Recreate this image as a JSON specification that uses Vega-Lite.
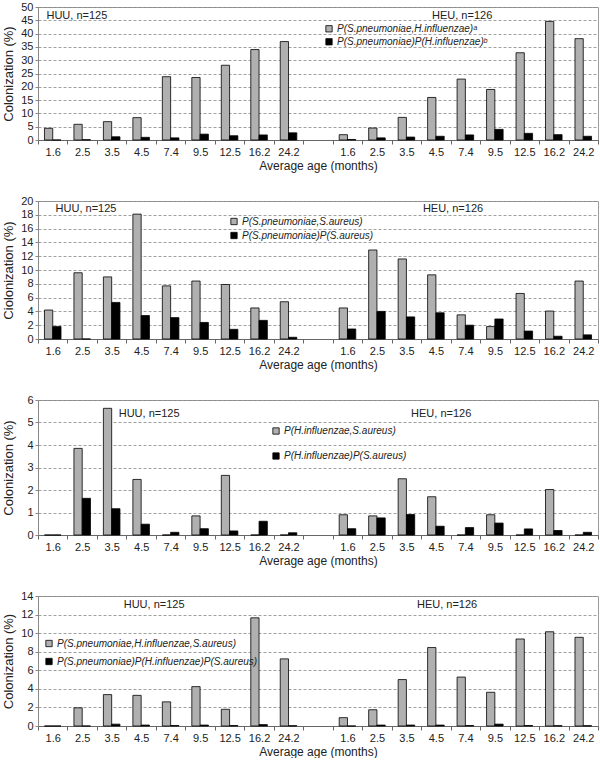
{
  "$schema": "https://vega.github.io/schema/vega-lite/v6.json",
  "padding": {"left": 1, "top": 0, "right": 2, "bottom": 0},
  "spacing": 22,
  "config": {
    "font": "Liberation Sans",
    "view": {"stroke": "#9a9a9a", "strokeWidth": 1},
    "axisX": {"domainColor": "#666", "tickColor": "#666", "tickSize": 4, "labelFontSize": 11, "labelColor": "#222", "titleFontSize": 12, "titleFontWeight": "normal", "titleColor": "#222", "labelPadding": 2, "titlePadding": 3, "grid": false, "labelAngle": 0},
    "axisY": {"grid": true, "gridDash": [3, 2], "gridColor": "#888", "gridWidth": 0.8, "domainColor": "#888", "tickColor": "#888", "tickSize": 3, "labelFontSize": 11, "labelColor": "#222", "labelPadding": 2, "labelOverlap": false, "titleFontSize": 13, "titleFontWeight": "normal", "titleColor": "#222", "titleBaseline": "middle"},
    "legend": {"orient": "none", "title": null, "symbolType": "square", "symbolSize": 40, "symbolStrokeColor": "black", "symbolStrokeWidth": 0.8, "labelFontSize": 10, "labelFontStyle": "italic", "labelColor": "#222", "labelLimit": 400, "padding": 0, "labelOffset": 3, "direction": "vertical"}
  },
  "resolve": {"scale": {"color": "independent"}, "legend": {"color": "independent"}},
  "datasets": {
    "d": [
      {"p":1,"slot":1,"s":"j","v":4.4},{"p":1,"slot":2,"s":"j","v":5.9},{"p":1,"slot":3,"s":"j","v":6.9},{"p":1,"slot":4,"s":"j","v":8.4},{"p":1,"slot":5,"s":"j","v":23.8},{"p":1,"slot":6,"s":"j","v":23.5},{"p":1,"slot":7,"s":"j","v":28.1},{"p":1,"slot":8,"s":"j","v":34.0},{"p":1,"slot":9,"s":"j","v":37.0},
      {"p":1,"slot":1,"s":"p","v":0},{"p":1,"slot":2,"s":"p","v":0.1},{"p":1,"slot":3,"s":"p","v":1.2},{"p":1,"slot":4,"s":"p","v":1.0},{"p":1,"slot":5,"s":"p","v":0.8},{"p":1,"slot":6,"s":"p","v":2.2},{"p":1,"slot":7,"s":"p","v":1.6},{"p":1,"slot":8,"s":"p","v":1.9},{"p":1,"slot":9,"s":"p","v":2.7},
      {"p":1,"slot":11,"s":"j","v":2.0},{"p":1,"slot":12,"s":"j","v":4.5},{"p":1,"slot":13,"s":"j","v":8.5},{"p":1,"slot":14,"s":"j","v":16.0},{"p":1,"slot":15,"s":"j","v":22.9},{"p":1,"slot":16,"s":"j","v":19.0},{"p":1,"slot":17,"s":"j","v":32.8},{"p":1,"slot":18,"s":"j","v":44.6},{"p":1,"slot":19,"s":"j","v":38.1},
      {"p":1,"slot":11,"s":"p","v":0.2},{"p":1,"slot":12,"s":"p","v":0.8},{"p":1,"slot":13,"s":"p","v":1.1},{"p":1,"slot":14,"s":"p","v":1.4},{"p":1,"slot":15,"s":"p","v":1.9},{"p":1,"slot":16,"s":"p","v":4.0},{"p":1,"slot":17,"s":"p","v":2.5},{"p":1,"slot":18,"s":"p","v":2.0},{"p":1,"slot":19,"s":"p","v":1.4},

      {"p":2,"slot":1,"s":"j","v":4.2},{"p":2,"slot":2,"s":"j","v":9.6},{"p":2,"slot":3,"s":"j","v":9.0},{"p":2,"slot":4,"s":"j","v":18.1},{"p":2,"slot":5,"s":"j","v":7.7},{"p":2,"slot":6,"s":"j","v":8.4},{"p":2,"slot":7,"s":"j","v":7.9},{"p":2,"slot":8,"s":"j","v":4.5},{"p":2,"slot":9,"s":"j","v":5.4},
      {"p":2,"slot":1,"s":"p","v":1.8},{"p":2,"slot":2,"s":"p","v":0},{"p":2,"slot":3,"s":"p","v":5.3},{"p":2,"slot":4,"s":"p","v":3.4},{"p":2,"slot":5,"s":"p","v":3.1},{"p":2,"slot":6,"s":"p","v":2.4},{"p":2,"slot":7,"s":"p","v":1.4},{"p":2,"slot":8,"s":"p","v":2.7},{"p":2,"slot":9,"s":"p","v":0.25},
      {"p":2,"slot":11,"s":"j","v":4.5},{"p":2,"slot":12,"s":"j","v":12.9},{"p":2,"slot":13,"s":"j","v":11.6},{"p":2,"slot":14,"s":"j","v":9.3},{"p":2,"slot":15,"s":"j","v":3.5},{"p":2,"slot":16,"s":"j","v":1.8},{"p":2,"slot":17,"s":"j","v":6.6},{"p":2,"slot":18,"s":"j","v":4.05},{"p":2,"slot":19,"s":"j","v":8.4},
      {"p":2,"slot":11,"s":"p","v":1.45},{"p":2,"slot":12,"s":"p","v":4.0},{"p":2,"slot":13,"s":"p","v":3.2},{"p":2,"slot":14,"s":"p","v":3.8},{"p":2,"slot":15,"s":"p","v":2.0},{"p":2,"slot":16,"s":"p","v":2.9},{"p":2,"slot":17,"s":"p","v":1.15},{"p":2,"slot":18,"s":"p","v":0.4},{"p":2,"slot":19,"s":"p","v":0.6},

      {"p":3,"slot":1,"s":"j","v":0},{"p":3,"slot":2,"s":"j","v":3.85},{"p":3,"slot":3,"s":"j","v":5.63},{"p":3,"slot":4,"s":"j","v":2.47},{"p":3,"slot":5,"s":"j","v":0},{"p":3,"slot":6,"s":"j","v":0.85},{"p":3,"slot":7,"s":"j","v":2.65},{"p":3,"slot":8,"s":"j","v":0},{"p":3,"slot":9,"s":"j","v":0},
      {"p":3,"slot":1,"s":"p","v":0},{"p":3,"slot":2,"s":"p","v":1.63},{"p":3,"slot":3,"s":"p","v":1.17},{"p":3,"slot":4,"s":"p","v":0.48},{"p":3,"slot":5,"s":"p","v":0.12},{"p":3,"slot":6,"s":"p","v":0.28},{"p":3,"slot":7,"s":"p","v":0.18},{"p":3,"slot":8,"s":"p","v":0.61},{"p":3,"slot":9,"s":"p","v":0.1},
      {"p":3,"slot":11,"s":"j","v":0.9},{"p":3,"slot":12,"s":"j","v":0.85},{"p":3,"slot":13,"s":"j","v":2.5},{"p":3,"slot":14,"s":"j","v":1.7},{"p":3,"slot":15,"s":"j","v":0},{"p":3,"slot":16,"s":"j","v":0.9},{"p":3,"slot":17,"s":"j","v":0},{"p":3,"slot":18,"s":"j","v":2.02},{"p":3,"slot":19,"s":"j","v":0},
      {"p":3,"slot":11,"s":"p","v":0.28},{"p":3,"slot":12,"s":"p","v":0.76},{"p":3,"slot":13,"s":"p","v":0.91},{"p":3,"slot":14,"s":"p","v":0.39},{"p":3,"slot":15,"s":"p","v":0.33},{"p":3,"slot":16,"s":"p","v":0.53},{"p":3,"slot":17,"s":"p","v":0.27},{"p":3,"slot":18,"s":"p","v":0.2},{"p":3,"slot":19,"s":"p","v":0.12},

      {"p":4,"slot":1,"s":"j","v":0},{"p":4,"slot":2,"s":"j","v":1.96},{"p":4,"slot":3,"s":"j","v":3.38},{"p":4,"slot":4,"s":"j","v":3.3},{"p":4,"slot":5,"s":"j","v":2.6},{"p":4,"slot":6,"s":"j","v":4.24},{"p":4,"slot":7,"s":"j","v":1.8},{"p":4,"slot":8,"s":"j","v":11.65},{"p":4,"slot":9,"s":"j","v":7.23},
      {"p":4,"slot":1,"s":"p","v":0},{"p":4,"slot":2,"s":"p","v":0},{"p":4,"slot":3,"s":"p","v":0.2},{"p":4,"slot":4,"s":"p","v":0.1},{"p":4,"slot":5,"s":"p","v":0.05},{"p":4,"slot":6,"s":"p","v":0.1},{"p":4,"slot":7,"s":"p","v":0.05},{"p":4,"slot":8,"s":"p","v":0.15},{"p":4,"slot":9,"s":"p","v":0.03},
      {"p":4,"slot":11,"s":"j","v":0.9},{"p":4,"slot":12,"s":"j","v":1.75},{"p":4,"slot":13,"s":"j","v":5.0},{"p":4,"slot":14,"s":"j","v":8.45},{"p":4,"slot":15,"s":"j","v":5.27},{"p":4,"slot":16,"s":"j","v":3.63},{"p":4,"slot":17,"s":"j","v":9.37},{"p":4,"slot":18,"s":"j","v":10.15},{"p":4,"slot":19,"s":"j","v":9.55},
      {"p":4,"slot":11,"s":"p","v":0},{"p":4,"slot":12,"s":"p","v":0.1},{"p":4,"slot":13,"s":"p","v":0.1},{"p":4,"slot":14,"s":"p","v":0.1},{"p":4,"slot":15,"s":"p","v":0.05},{"p":4,"slot":16,"s":"p","v":0.2},{"p":4,"slot":17,"s":"p","v":0.05},{"p":4,"slot":18,"s":"p","v":0.03},{"p":4,"slot":19,"s":"p","v":0.03}
    ]
  },
  "vconcat": [
    {
      "width": 560, "height": 133,
      "resolve": {"scale": {"x": "independent"}},
      "layer": [
        {
          "data": {"name": "d"},
          "transform": [{"filter": "datum.p == 1"}],
          "mark": {"type": "bar", "stroke": "black", "strokeWidth": 0.8},
          "encoding": {
            "x": {"field": "slot", "type": "ordinal", "scale": {"domain": [1,2,3,4,5,6,7,8,9,10,11,12,13,14,15,16,17,18,19], "paddingInner": 0, "paddingOuter": 0},
              "axis": {"title": "Average age (months)", "tickBand": "extent", "labelExpr": "['1.6','2.5','3.5','4.5','7.4','9.5','12.5','16.2','24.2','','1.6','2.5','3.5','4.5','7.4','9.5','12.5','16.2','24.2'][datum.value-1]"}},
            "xOffset": {"field": "s", "type": "nominal", "scale": {"domain": ["j","p"], "paddingInner": 0, "paddingOuter": 0.78}},
            "y": {"field": "v", "type": "quantitative", "scale": {"domain": [0, 50], "nice": false}, "axis": {"values": [0,5,10,15,20,25,30,35,40,45,50], "title": "Colonization (%)", "titleX": -30, "titleY": 66.5}},
            "color": {"field": "s", "type": "nominal", "scale": {"domain": ["j","p"], "range": ["#b0b0b0","#000000"]},
              "legend": {"legendX": 286, "legendY": 16.8, "rowPadding": 3, "labelExpr": "datum.value == 'j' ? 'P(S.pneumoniae,H.influenzae)ᵃ' : 'P(S.pneumoniae)P(H.influenzae)ᵇ'"}}
          }
        },
        {
          "data": {"values": [{"x": 1.32, "y": 46.5, "t": "HUU, n=125"}, {"x": 14.39, "y": 46.5, "t": "HEU, n=126"}]},
          "mark": {"type": "text", "fontSize": 11, "color": "#222", "baseline": "middle", "align": "center"},
          "encoding": {
            "x": {"field": "x", "type": "quantitative", "scale": {"domain": [0, 19], "nice": false, "zero": false}, "axis": null},
            "y": {"field": "y", "type": "quantitative", "scale": {"domain": [0, 50], "nice": false}, "axis": {"values": [0,5,10,15,20,25,30,35,40,45,50], "title": "Colonization (%)", "titleX": -30, "titleY": 66.5}},
            "text": {"field": "t"}
          }
        }
      ]
    },
    {
      "width": 560, "height": 138,
      "resolve": {"scale": {"x": "independent"}},
      "layer": [
        {
          "data": {"name": "d"},
          "transform": [{"filter": "datum.p == 2"}],
          "mark": {"type": "bar", "stroke": "black", "strokeWidth": 0.8},
          "encoding": {
            "x": {"field": "slot", "type": "ordinal", "scale": {"domain": [1,2,3,4,5,6,7,8,9,10,11,12,13,14,15,16,17,18,19], "paddingInner": 0, "paddingOuter": 0},
              "axis": {"title": "Average age (months)", "tickBand": "extent", "labelExpr": "['1.6','2.5','3.5','4.5','7.4','9.5','12.5','16.2','24.2','','1.6','2.5','3.5','4.5','7.4','9.5','12.5','16.2','24.2'][datum.value-1]"}},
            "xOffset": {"field": "s", "type": "nominal", "scale": {"domain": ["j","p"], "paddingInner": 0, "paddingOuter": 0.78}},
            "y": {"field": "v", "type": "quantitative", "scale": {"domain": [0, 20], "nice": false}, "axis": {"values": [0,2,4,6,8,10,12,14,16,18,20], "title": "Ciolonization (%)", "titleX": -30, "titleY": 69}},
            "color": {"field": "s", "type": "nominal", "scale": {"domain": ["j","p"], "range": ["#b0b0b0","#000000"]},
              "legend": {"legendX": 191, "legendY": 15.5, "rowPadding": 4, "labelExpr": "datum.value == 'j' ? 'P(S.pneumoniae,S.aureus)' : 'P(S.pneumoniae)P(S.aureus)'"}}
          }
        },
        {
          "data": {"values": [{"x": 1.63, "y": 18.9, "t": "HUU, n=125"}, {"x": 14.08, "y": 18.9, "t": "HEU, n=126"}]},
          "mark": {"type": "text", "fontSize": 11, "color": "#222", "baseline": "middle", "align": "center"},
          "encoding": {
            "x": {"field": "x", "type": "quantitative", "scale": {"domain": [0, 19], "nice": false, "zero": false}, "axis": null},
            "y": {"field": "y", "type": "quantitative", "scale": {"domain": [0, 20], "nice": false}, "axis": {"values": [0,2,4,6,8,10,12,14,16,18,20], "title": "Ciolonization (%)", "titleX": -30, "titleY": 69}},
            "text": {"field": "t"}
          }
        }
      ]
    },
    {
      "width": 560, "height": 135,
      "resolve": {"scale": {"x": "independent"}},
      "layer": [
        {
          "data": {"name": "d"},
          "transform": [{"filter": "datum.p == 3"}],
          "mark": {"type": "bar", "stroke": "black", "strokeWidth": 0.8},
          "encoding": {
            "x": {"field": "slot", "type": "ordinal", "scale": {"domain": [1,2,3,4,5,6,7,8,9,10,11,12,13,14,15,16,17,18,19], "paddingInner": 0, "paddingOuter": 0},
              "axis": {"title": "Average age (months)", "tickBand": "extent", "labelExpr": "['1.6','2.5','3.5','4.5','7.4','9.5','12.5','16.2','24.2','','1.6','2.5','3.5','4.5','7.4','9.5','12.5','16.2','24.2'][datum.value-1]"}},
            "xOffset": {"field": "s", "type": "nominal", "scale": {"domain": ["j","p"], "paddingInner": 0, "paddingOuter": 0.78}},
            "y": {"field": "v", "type": "quantitative", "scale": {"domain": [0, 6], "nice": false}, "axis": {"values": [0,1,2,3,4,5,6], "title": "Colonization (%)", "titleX": -30, "titleY": 67.5}},
            "color": {"field": "s", "type": "nominal", "scale": {"domain": ["j","p"], "range": ["#b0b0b0","#000000"]},
              "legend": {"legendX": 233, "legendY": 26, "rowPadding": 15, "labelExpr": "datum.value == 'j' ? 'P(H.influenzae,S.aureus)' : 'P(H.influenzae)P(S.aureus)'"}}
          }
        },
        {
          "data": {"values": [{"x": 3.77, "y": 5.38, "t": "HUU, n=125"}, {"x": 13.68, "y": 5.38, "t": "HEU, n=126"}]},
          "mark": {"type": "text", "fontSize": 11, "color": "#222", "baseline": "middle", "align": "center"},
          "encoding": {
            "x": {"field": "x", "type": "quantitative", "scale": {"domain": [0, 19], "nice": false, "zero": false}, "axis": null},
            "y": {"field": "y", "type": "quantitative", "scale": {"domain": [0, 6], "nice": false}, "axis": {"values": [0,1,2,3,4,5,6], "title": "Colonization (%)", "titleX": -30, "titleY": 67.5}},
            "text": {"field": "t"}
          }
        }
      ]
    },
    {
      "width": 560, "height": 130,
      "resolve": {"scale": {"x": "independent"}},
      "layer": [
        {
          "data": {"name": "d"},
          "transform": [{"filter": "datum.p == 4"}],
          "mark": {"type": "bar", "stroke": "black", "strokeWidth": 0.8},
          "encoding": {
            "x": {"field": "slot", "type": "ordinal", "scale": {"domain": [1,2,3,4,5,6,7,8,9,10,11,12,13,14,15,16,17,18,19], "paddingInner": 0, "paddingOuter": 0},
              "axis": {"title": "Average age (months)", "tickBand": "extent", "labelExpr": "['1.6','2.5','3.5','4.5','7.4','9.5','12.5','16.2','24.2','','1.6','2.5','3.5','4.5','7.4','9.5','12.5','16.2','24.2'][datum.value-1]"}},
            "xOffset": {"field": "s", "type": "nominal", "scale": {"domain": ["j","p"], "paddingInner": 0, "paddingOuter": 0.78}},
            "y": {"field": "v", "type": "quantitative", "scale": {"domain": [0, 14], "nice": false}, "axis": {"values": [0,2,4,6,8,10,12,14], "title": "Colonization (%)", "titleX": -30, "titleY": 65}},
            "color": {"field": "s", "type": "nominal", "scale": {"domain": ["j","p"], "range": ["#b0b0b0","#000000"]},
              "legend": {"legendX": 6, "legendY": 42.5, "rowPadding": 8, "labelExpr": "datum.value == 'j' ? 'P(S.pneumoniae,H.influenzae,S.aureus)' : 'P(S.pneumoniae)P(H.influenzae)P(S.aureus)'"}}
          }
        },
        {
          "data": {"values": [{"x": 3.94, "y": 13.0, "t": "HUU, n=125"}, {"x": 13.88, "y": 13.0, "t": "HEU, n=126"}]},
          "mark": {"type": "text", "fontSize": 11, "color": "#222", "baseline": "middle", "align": "center"},
          "encoding": {
            "x": {"field": "x", "type": "quantitative", "scale": {"domain": [0, 19], "nice": false, "zero": false}, "axis": null},
            "y": {"field": "y", "type": "quantitative", "scale": {"domain": [0, 14], "nice": false}, "axis": {"values": [0,2,4,6,8,10,12,14], "title": "Colonization (%)", "titleX": -30, "titleY": 65}},
            "text": {"field": "t"}
          }
        }
      ]
    }
  ]
}
